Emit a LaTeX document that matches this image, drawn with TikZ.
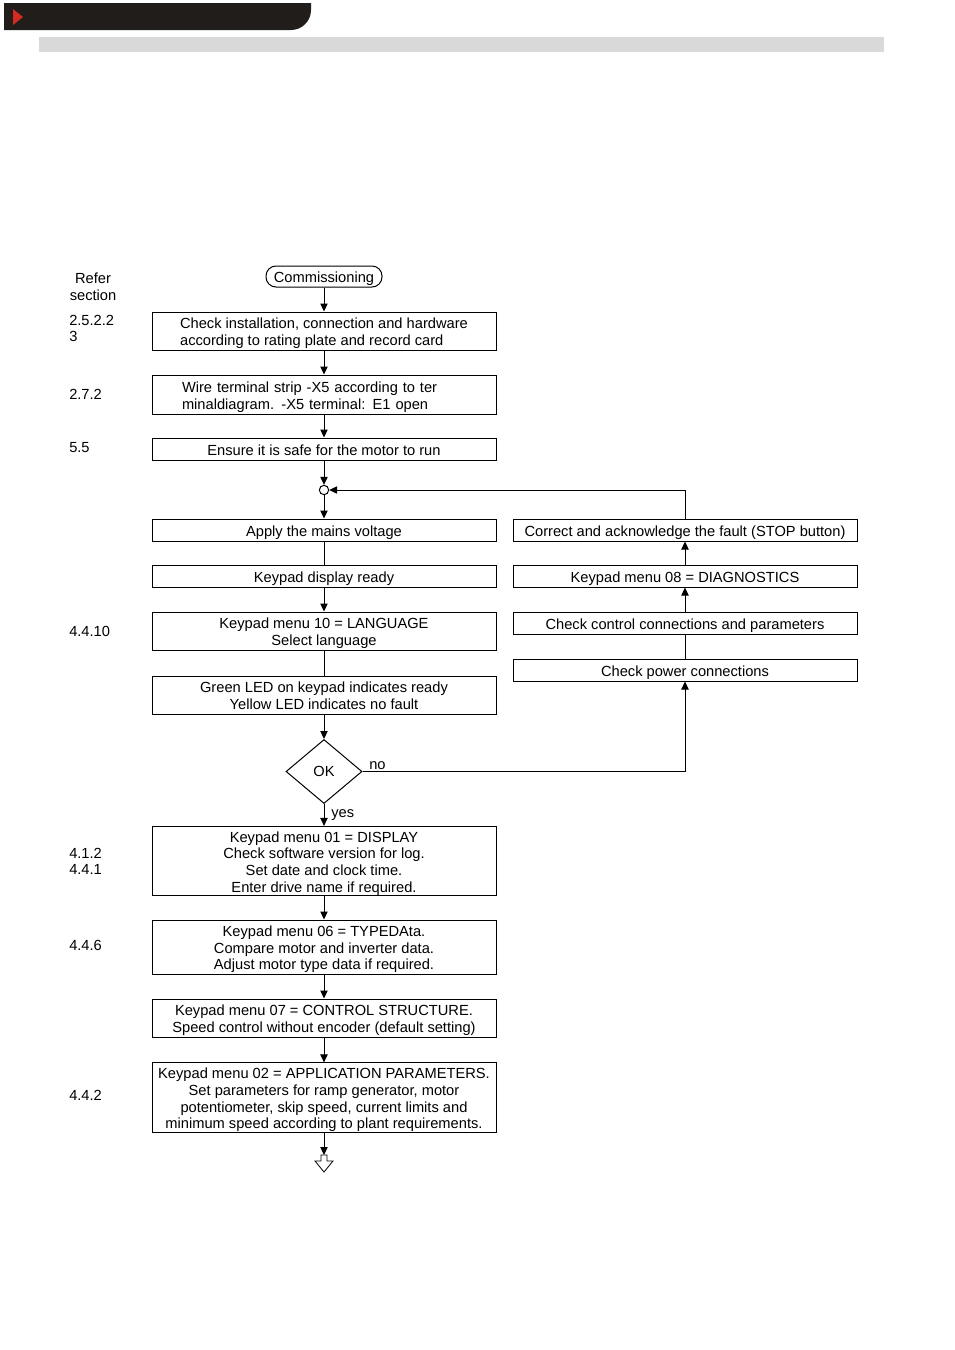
\documentclass[tikz,border=0pt]{standalone}
\usepackage{fontspec}
\setmainfont{Liberation Sans}
\usetikzlibrary{arrows.meta,shapes.geometric}
\definecolor{hdrblack}{HTML}{201D1B}
\definecolor{hdrred}{HTML}{D42A20}
\definecolor{hdrgray}{HTML}{D9D9D9}
\newcommand{\topstrut}{\rule{0pt}{11.9pt}}
\newcommand{\botstrut}{\rule[-2.5pt]{0pt}{2.5pt}}
\begin{document}
\begin{tikzpicture}[x=0.75pt,y=-0.75pt,
  every node/.style={font=\fontsize{11}{12.5}\selectfont},
  box/.style={draw, line width=0.75pt, minimum width=258pt, inner sep=0pt, align=center,
    execute at begin node=\topstrut, execute at end node=\botstrut},
  arr/.style={line width=0.75pt, -{Triangle[length=6pt,width=5.5pt]}},
  ln/.style={line width=0.75pt},
  lbl/.style={anchor=west, align=left, inner sep=0pt}]
\useasboundingbox (0,0) rectangle (954,1350);
% header
\fill[hdrblack] (4,3) -- (311,3) [rounded corners=15pt] -- (311,30) [sharp corners] -- (4,30) -- cycle;
\fill[hdrred] (13,9) -- (23,17) -- (13,25) -- cycle;
\fill[hdrgray] (39,37) rectangle (884,52);

% left column references
\node[align=center, inner sep=0pt] (refer) at (93,286.5) {Refer\\section};
\node[lbl] (s1) at (69,328.5) {2.5.2.2\\3};
\node[lbl] (s2) at (69,394) {2.7.2};
\node[lbl] (s3) at (69,448) {5.5};
\node[lbl] (s4) at (69,631) {4.4.10};
\node[lbl] (s5) at (69,861.5) {4.1.2\\4.4.1};
\node[lbl] (s6) at (69,945) {4.4.6};
\node[lbl] (s7) at (69,1095) {4.4.2};

% main column
\node[draw, rounded corners=7.5pt, minimum width=87pt, minimum height=15.75pt, inner sep=0pt, line width=0.75pt,
  execute at begin node=\topstrut, execute at end node=\botstrut] (start) at (324,276.5) {Commissioning};
\node[box, minimum height=28.5pt, align=left] (b1) at (324,331) {\topstrut Check installation, connection and hardware\\according to rating plate and record card};
\node[box, minimum height=29.25pt, text width=213pt, align=left] (b2) at (324,394.5) {\topstrut Wire terminal strip -X5 according to ter\\minaldiagram. -X5 terminal: E1 open};
\node[box, minimum height=16.5pt] (b3) at (324,449) {Ensure it is safe for the motor to run};
\node[circle, draw, line width=0.75pt, minimum size=7pt, inner sep=0pt] (j) at (324,490) {};
\node[box, minimum height=16.5pt] (b4) at (324,530) {Apply the mains voltage};
\node[box, minimum height=16.5pt] (b5) at (324,576) {Keypad display ready};
\node[box, minimum height=28.5pt] (b6) at (324,631) {\topstrut Keypad menu 10 = LANGUAGE\\Select language};
\node[box, minimum height=28.5pt] (b7) at (324,695) {\topstrut Green LED on keypad indicates ready\\Yellow LED indicates no fault};
\node[diamond, draw, line width=0.75pt, minimum width=57pt, minimum height=48pt, inner sep=0pt] (ok) at (324,771.5) {OK};
\node[box, minimum height=51pt] (b8) at (324,861) {\topstrut Keypad menu 01 = DISPLAY\\Check software version for log.\\Set date and clock time.\\Enter drive name if required.};
\node[box, minimum height=40.5pt] (b9) at (324,947) {\topstrut Keypad menu 06 = TYPEDAta.\\Compare motor and inverter data.\\Adjust motor type data if required.};
\node[box, minimum height=28.5pt] (b10) at (324,1018) {\topstrut Keypad menu 07 = CONTROL STRUCTURE.\\Speed control without encoder (default setting)};
\node[box, minimum height=51.75pt] (b11) at (324,1097.5) {\topstrut Keypad menu 02 = APPLICATION PARAMETERS.\\Set parameters for ramp generator, motor\\potentiometer, skip speed, current limits and\\minimum speed according to plant requirements.};
\coordinate (endp) at (324,1155);

% right column
\node[box, minimum height=16.5pt] (r1) at (685,530) {Correct and acknowledge the fault (STOP button)};
\node[box, minimum height=16.5pt] (r2) at (685,576) {Keypad menu 08 = DIAGNOSTICS};
\node[box, minimum height=16.5pt] (r3) at (685,623) {Check control connections and parameters};
\node[box, minimum height=16.5pt] (r4) at (685,670) {Check power connections};

% labels
\node[lbl] (no) at (369,765.5) {no};
\node[lbl] (yes) at (331,815.5) {yes};

% connectors
\draw[arr] (start) -- (b1);
\draw[arr] (b1) -- (b2);
\draw[arr] (b2) -- (b3);
\draw[arr] (b3) -- (j);
\draw[arr] (j) -- (b4);
\draw[ln] (b4) -- (b5);
\draw[arr] (b5) -- (b6);
\draw[ln] (b6) -- (b7);
\draw[arr] (b7) -- (ok);
\draw[arr] (ok.south) -- (b8);
\draw[arr] (b8) -- (b9);
\draw[arr] (b9) -- (b10);
\draw[arr] (b10) -- (b11);
\draw[arr] (b11) -- (endp);
\draw[arr] (ok.east) -| (r4.south);
\draw[ln] (r4) -- (r3);
\draw[arr] (r3) -- (r2);
\draw[arr] (r2) -- (r1);
\draw[arr] (r1.north) |- (j.east);

% continuation symbol
\draw[line width=0.6pt, line join=miter] (321,1155) -- (327,1155) -- (327,1161) -- (333,1161) -- (324,1172) -- (315,1161) -- (321,1161) -- cycle;
\end{tikzpicture}
\end{document}
